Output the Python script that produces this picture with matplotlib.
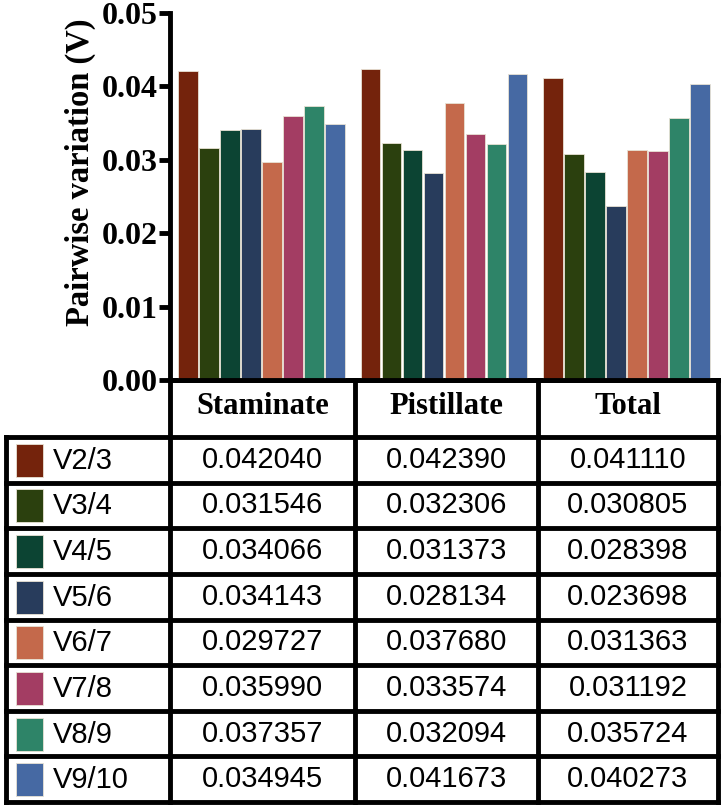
import numpy as np
import matplotlib.pyplot as plt
from matplotlib.patches import Rectangle

# ----------------------------
# Datos
# ----------------------------
grupos = ["Staminate", "Pistillate", "Total"]
pares = ["V2/3", "V3/4", "V4/5", "V5/6", "V6/7", "V7/8", "V8/9", "V9/10"]
staminate = [0.042040, 0.031546, 0.034066, 0.034143, 0.029727, 0.035990, 0.037357, 0.034945]
pistillate = [0.042390, 0.032306, 0.031373, 0.028134, 0.037680, 0.033574, 0.032094, 0.041673]
total = [0.041110, 0.030805, 0.028398, 0.023698, 0.031363, 0.031192, 0.035724, 0.040273]
yticks = [0.00, 0.01, 0.02, 0.03, 0.04, 0.05]

colores = ["#74230c", "#2b400e", "#0c4433", "#283c5c",
           "#c4694b", "#a33d63", "#2e8468", "#4669a3"]

valores = np.array([staminate, pistillate, total])  # (grupo, par)

W, H = 726, 808
SERIF = "Liberation Serif"
SANS = "Liberation Sans"

# geometría (px)
X_AX0, X_COL1, X_COL2, X_AX1 = 170, 355, 538, 718
X_LEG0 = 6
Y_TOP, Y_ZERO = 13, 380
Y_HDR = 437
ROW_H = (802 - Y_HDR) / 8
LW = 3.5

fig = plt.figure(figsize=(W / 100, H / 100), dpi=100)

# ----------------------------
# Barras
# ----------------------------
ax = fig.add_axes([X_AX0 / W, 1 - Y_ZERO / H, (X_AX1 - X_AX0) / W, (Y_ZERO - Y_TOP) / H])
n = len(pares)
pitch = 0.115
bw = 0.108
for j in range(n):
    xs = np.arange(len(grupos)) + (j - (n - 1) / 2) * pitch
    ax.bar(xs, valores[:, j], width=bw, color=colores[j],
           edgecolor="#e8e2d4", linewidth=0.6, zorder=2)

ax.set_xlim(-0.5, 2.5)
ax.set_ylim(0, 0.05)
ax.set_yticks(yticks)
ax.set_yticklabels([f"{t:.2f}" for t in yticks], fontfamily=SERIF,
                   fontweight="bold", fontsize=23)
ax.set_xticks([])
ax.tick_params(axis="y", length=8, width=LW, pad=1)
for s in ["top", "right"]:
    ax.spines[s].set_visible(False)
ax.spines["left"].set_linewidth(LW)
ax.spines["bottom"].set_linewidth(LW)
ax.set_ylabel("Pairwise variation (V)", fontfamily=SERIF, fontweight="bold",
              fontsize=23.5)
ax.yaxis.set_label_coords(-0.135, 0.565)
ax.patch.set_alpha(0)

# ----------------------------
# Tabla
# ----------------------------
tb = fig.add_axes([0, 0, 1, 1], zorder=-1)
tb.set_xlim(0, W)
tb.set_ylim(H, 0)
tb.axis("off")

y_fin = Y_HDR + ROW_H * 8
cols_x = [X_AX0, X_COL1, X_COL2, X_AX1]

# líneas verticales
tb.plot([X_AX0, X_AX0], [Y_ZERO, y_fin], color="k", lw=LW, solid_capstyle="projecting")
for x in cols_x[1:]:
    tb.plot([x, x], [Y_ZERO, y_fin], color="k", lw=LW, solid_capstyle="projecting")
tb.plot([X_LEG0, X_LEG0], [Y_HDR, y_fin], color="k", lw=LW, solid_capstyle="projecting")

# líneas horizontales
tb.plot([X_AX0, X_AX1], [Y_ZERO, Y_ZERO], color="k", lw=LW)
for k in range(n + 1):
    y = Y_HDR + ROW_H * k
    tb.plot([X_LEG0, X_AX1], [y, y], color="k", lw=LW, solid_capstyle="projecting")

# encabezados
for i, g in enumerate(grupos):
    cx = (cols_x[i] + cols_x[i + 1]) / 2
    tb.text(cx, (Y_ZERO + Y_HDR) / 2 - 2, g, ha="center", va="center",
            fontfamily=SERIF, fontweight="bold", fontsize=22)

# filas
for j, p in enumerate(pares):
    cy = Y_HDR + ROW_H * (j + 0.5)
    tb.add_patch(Rectangle((16, cy - 16), 27, 33, facecolor=colores[j],
                           edgecolor="#e8e2d4", lw=0.6))
    tb.text(53, cy + 1, p, ha="left", va="center", fontfamily=SANS, fontsize=21)
    for i in range(len(grupos)):
        cx = (cols_x[i] + cols_x[i + 1]) / 2
        tb.text(cx, cy, f"{valores[i, j]:.6f}", ha="center", va="center",
                fontfamily=SANS, fontsize=21)

fig.savefig("out.png", dpi=100)
